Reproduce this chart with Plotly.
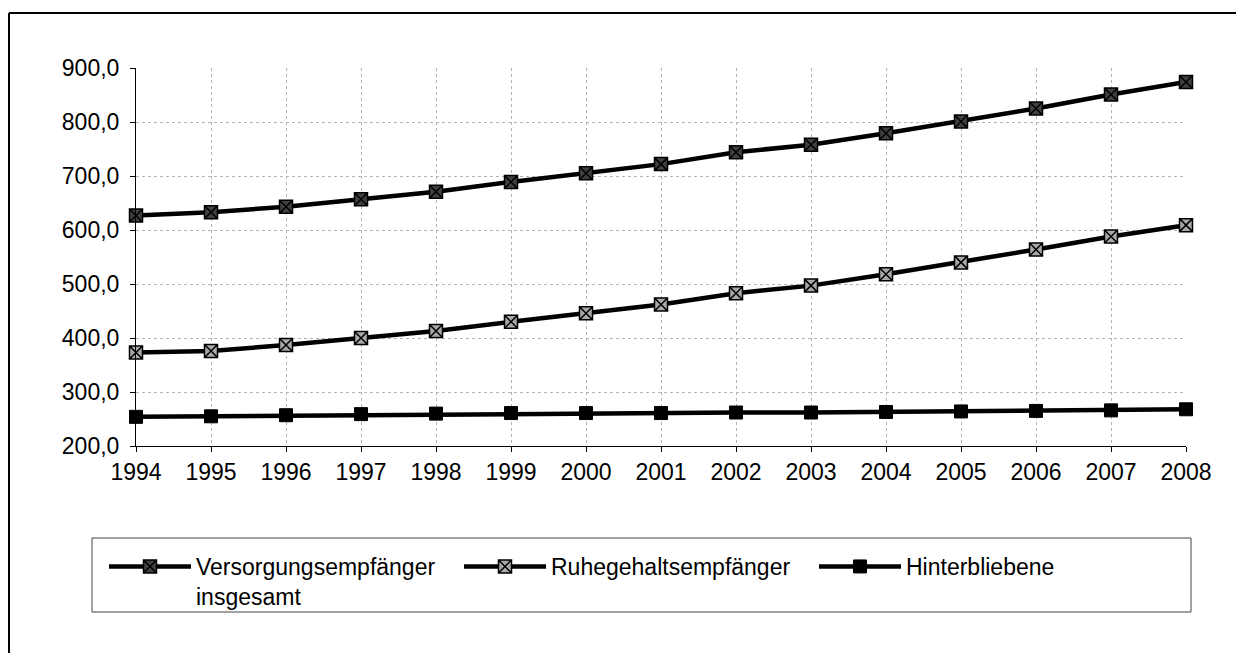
import plotly.graph_objects as go

# ---- data ----
years = [1994, 1995, 1996, 1997, 1998, 1999, 2000, 2001, 2002, 2003, 2004, 2005, 2006, 2007, 2008]
year_labels = [str(y) for y in years]
versorgung = [627, 633, 643, 657, 671, 689, 705, 722, 744, 758, 779, 801, 825, 851, 874]
ruhegehalt = [373, 376, 387, 400, 413, 430, 446, 462, 483, 497, 518, 540, 564, 588, 609]
hinterbliebene = [254, 255, 257, 259, 260, 261, 261, 261, 262, 262, 263, 264, 265, 266, 268]
y_ticks = [200, 300, 400, 500, 600, 700, 800, 900]
y_tick_labels = ["200,0", "300,0", "400,0", "500,0", "600,0", "700,0", "800,0", "900,0"]
series_names = ["Versorgungsempfänger<br>insgesamt", "Ruhegehaltsempfänger", "Hinterbliebene"]

# ---- layout geometry (pixels, relative to the figure; page adds an 8px body margin) ----
W, H = 1228, 645
L, R, T, B = 128, 1178, 60, 438


def px(x):
    return (x - L) / (R - L)


def py(y):
    return (B - y) / (B - T)


FONT = "Liberation Sans, Arial, sans-serif"
FS = 23

fig = go.Figure()

styles = [
    dict(symbol="square-x", color="#404040", line=dict(color="#000000", width=1.5)),
    dict(symbol="square-x", color="#a8a8a8", line=dict(color="#000000", width=1.5)),
    dict(symbol="square", color="#000000", line=dict(color="#000000", width=1)),
]
for name, vals, st in zip(series_names, [versorgung, ruhegehalt, hinterbliebene], styles):
    fig.add_trace(go.Scatter(
        x=years, y=vals, name=name, mode="lines+markers",
        line=dict(color="#000000", width=4.5),
        marker=dict(size=13, symbol=st["symbol"], color=st["color"], line=st["line"]),
        cliponaxis=False,
    ))

fig.update_layout(
    width=W, height=H,
    margin=dict(l=L, r=W - R, t=T, b=H - B, pad=0),
    paper_bgcolor="white", plot_bgcolor="white",
    font=dict(family=FONT, size=FS, color="#000000"),
    showlegend=True,
    legend=dict(
        orientation="h", x=px(96), y=py(537), xanchor="left", yanchor="top",
        itemwidth=82, entrywidth=258, entrywidthmode="pixels",
        font=dict(family=FONT, size=FS, color="#000000"),
        bgcolor="rgba(0,0,0,0)", borderwidth=0, valign="top", traceorder="normal",
    ),
    xaxis=dict(
        range=[1994, 2008], tickmode="array", tickvals=years, ticktext=year_labels,
        showline=True, linecolor="#000000", linewidth=1,
        ticks="outside", ticklen=5, tickcolor="#000000", tickwidth=1,
        showgrid=True, gridcolor="#b4b4b4", griddash="dot", gridwidth=1,
        zeroline=False, ticklabelstandoff=0,
        tickfont=dict(family=FONT, size=FS, color="#000000"),
    ),
    yaxis=dict(
        range=[200, 900], tickmode="array", tickvals=y_ticks, ticktext=y_tick_labels,
        showline=True, linecolor="#000000", linewidth=1,
        ticks="outside", ticklen=5, tickcolor="#000000", tickwidth=1,
        showgrid=True, gridcolor="#b4b4b4", griddash="dot", gridwidth=1,
        zeroline=False, ticklabelstandoff=6,
        tickfont=dict(family=FONT, size=FS, color="#000000"),
    ),
    shapes=[
        # outer frame of the scanned chart: top and left edges
        dict(type="line", xref="paper", yref="paper",
             x0=px(1), y0=py(5), x1=px(1260), y1=py(5),
             line=dict(color="#000000", width=2), layer="below"),
        dict(type="line", xref="paper", yref="paper",
             x0=px(1), y0=py(5), x1=px(1), y1=py(680),
             line=dict(color="#000000", width=2), layer="below"),
        # legend box
        dict(type="rect", xref="paper", yref="paper",
             x0=px(84), y0=py(530), x1=px(1183), y1=py(604),
             line=dict(color="#444444", width=1), fillcolor="rgba(0,0,0,0)", layer="below"),
    ],
)

fig.write_html("out.html", config={"displayModeBar": False})
